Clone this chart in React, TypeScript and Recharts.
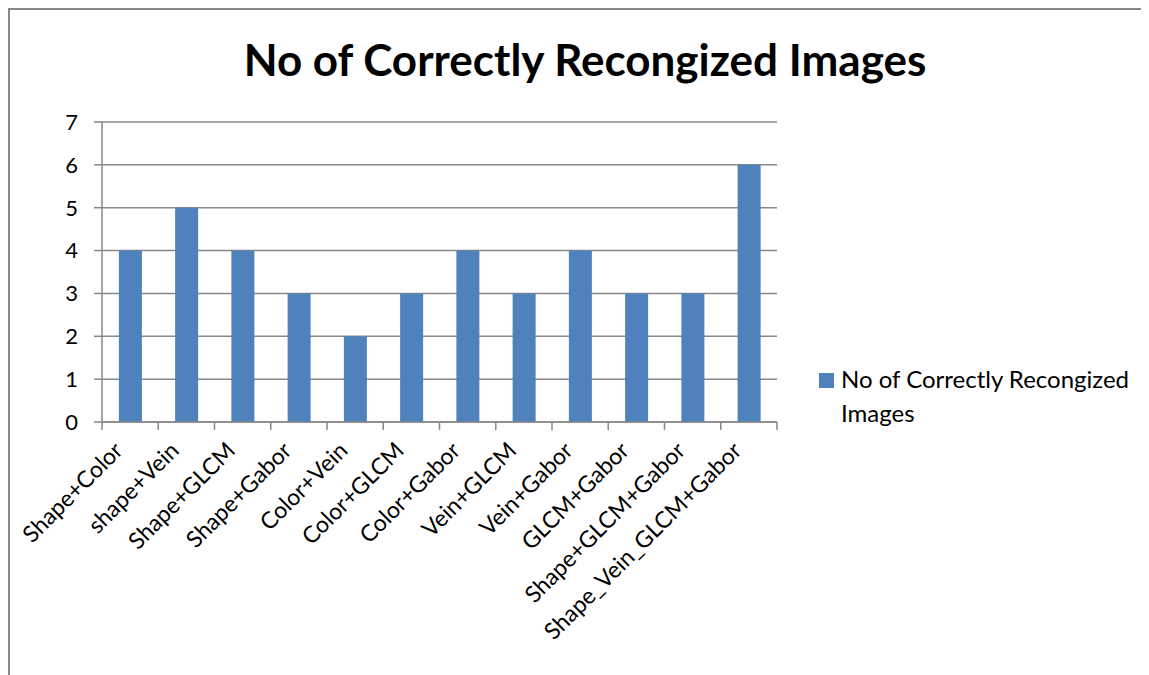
import React from "react";
import { BarChart, Bar, XAxis, YAxis, CartesianGrid, Legend } from "recharts";

const categories = [
  "Shape+Color",
  "shape+Vein",
  "Shape+GLCM",
  "Shape+Gabor",
  "Color+Vein",
  "Color+GLCM",
  "Color+Gabor",
  "Vein+GLCM",
  "Vein+Gabor",
  "GLCM+Gabor",
  "Shape+GLCM+Gabor",
  "Shape_Vein_GLCM+Gabor",
];
const values = [4, 5, 4, 3, 2, 3, 4, 3, 4, 3, 3, 6];
const yTicks = [0, 1, 2, 3, 4, 5, 6, 7];
const seriesName = "No of Correctly Recongized Images";
const titleText = "No of Correctly Recongized Images";

const data = categories.map((c, i) => ({ name: c, value: values[i] }));

const FONT = "Lato, 'Open Sans', sans-serif";
const GRAY = "#888888";
const BLUE = "#4F81BD";

const XTick = (props: any) => {
  const { x, y, payload, index } = props;
  const off = payload.offset || 0;
  const isLast = index === categories.length - 1;
  return (
    <g>
      <line x1={x - off} y1={y - 8} x2={x - off} y2={y} stroke={GRAY} strokeWidth={1.5} />
      {isLast && (
        <line x1={x + off} y1={y - 8} x2={x + off} y2={y} stroke={GRAY} strokeWidth={1.5} />
      )}
      <text
        x={x - 6}
        y={y + 22}
        transform={`rotate(-45, ${x - 6}, ${y + 22})`}
        textAnchor="end"
        fontSize={23}
        fontFamily={FONT}
        fill="#000"
      >
        {payload.value}
      </text>
    </g>
  );
};

const LegendContent = () => (
  <div style={{ display: "flex", alignItems: "flex-start", fontFamily: FONT, fontSize: 24, color: "#000", lineHeight: "34px", width: 330 }}>
    <div style={{ width: 15, height: 15, background: BLUE, marginTop: 11, marginRight: 7, flex: "none" }} />
    <div>{seriesName}</div>
  </div>
);

export default function App() {
  return (
    <div
      style={{
        position: "relative",
        width: 1139,
        height: 665,
        borderLeft: `2px solid ${GRAY}`,
        borderTop: `2px solid ${GRAY}`,
        background: "#fff",
        overflow: "hidden",
      }}
    >
      <div
        style={{
          position: "absolute",
          left: 0,
          width: 1150,
          top: 23,
          textAlign: "center",
          fontFamily: FONT,
          fontWeight: 700,
          fontSize: 44,
          lineHeight: 1.2,
          color: "#000",
        }}
      >
        {titleText}
      </div>
      <BarChart
        width={1139}
        height={665}
        data={data}
        margin={{ top: 112, right: 372, bottom: 23, left: 32 }}
        barCategoryGap="30%"
      >
        <CartesianGrid vertical={false} stroke={GRAY} strokeWidth={1.5} />
        <XAxis
          dataKey="name"
          interval={0}
          height={162}
          tick={<XTick />}
          tickLine={false}
          axisLine={{ stroke: GRAY, strokeWidth: 1.5 }}
        />
        <YAxis
          domain={[0, 7]}
          ticks={yTicks}
          width={60}
          tickSize={8}
          tickMargin={16}
          tickLine={{ stroke: GRAY, strokeWidth: 1.5 }}
          axisLine={{ stroke: GRAY, strokeWidth: 1.5 }}
          tick={{ fontSize: 22, fontFamily: FONT, fill: "#000" }}
        />
        <Legend
          content={<LegendContent />}
          wrapperStyle={{ position: "absolute", left: 809, top: 352, width: 340 }}
        />
        <Bar dataKey="value" name={seriesName} fill={BLUE} isAnimationActive={false} />
      </BarChart>
    </div>
  );
}
